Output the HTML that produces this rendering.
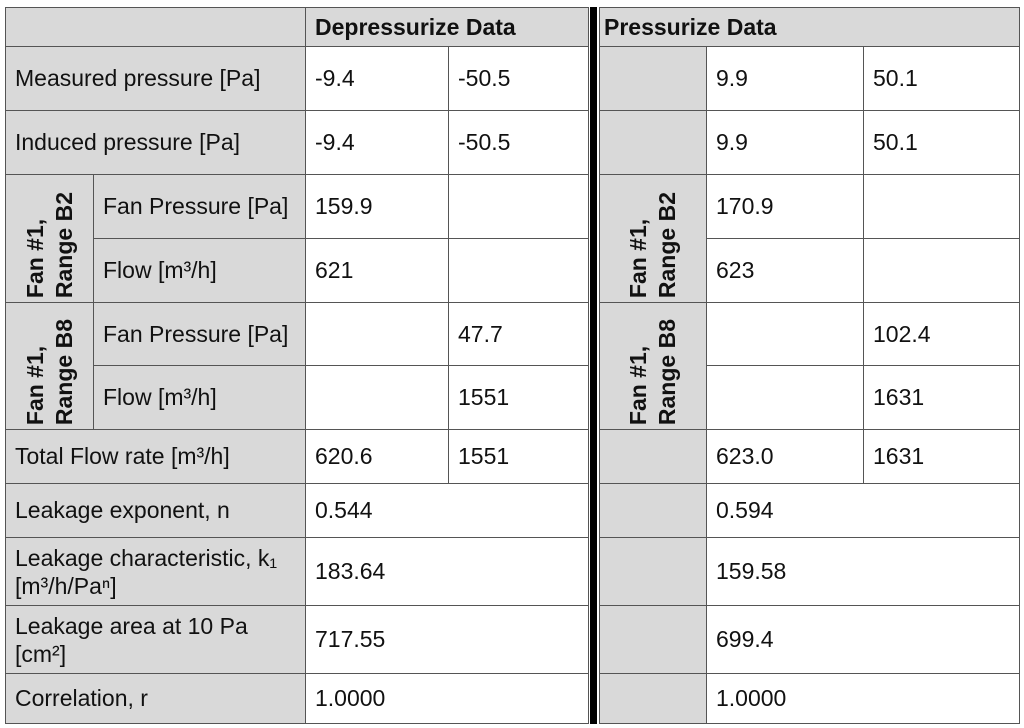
<!DOCTYPE html>
<html><head><meta charset="utf-8"><style>
html,body{margin:0;padding:0;background:#fff;}
body{width:1024px;height:728px;position:relative;overflow:hidden;font-family:"Liberation Sans",sans-serif;font-size:23px;color:#111;}
.c{position:absolute;box-sizing:border-box;border:1px solid #555;display:flex;align-items:center;padding-left:9px;white-space:nowrap;}
.g{background:#d9d9d9;}
.w{background:#fff;}
.b{font-weight:bold;}
.r{writing-mode:vertical-rl;transform:rotate(180deg);font-weight:bold;line-height:29px;}
.two{white-space:normal;line-height:28px;}
</style></head><body>
<!-- header -->
<div class="c g" style="left:5px;top:7px;width:301px;height:40px"></div>
<div class="c g b" style="left:305px;top:7px;width:284px;height:40px">Depressurize Data</div>
<div class="c g b" style="left:599px;top:7px;width:421px;height:40px;padding-left:4px">Pressurize Data</div>

<!-- Measured -->
<div class="c g" style="left:5px;top:46px;width:301px;height:65px">Measured pressure [Pa]</div>
<div class="c w" style="left:305px;top:46px;width:144px;height:65px">-9.4</div>
<div class="c w" style="left:448px;top:46px;width:141px;height:65px">-50.5</div>
<div class="c g" style="left:599px;top:46px;width:108px;height:65px"></div>
<div class="c w" style="left:706px;top:46px;width:158px;height:65px">9.9</div>
<div class="c w" style="left:863px;top:46px;width:157px;height:65px">50.1</div>

<!-- Induced -->
<div class="c g" style="left:5px;top:110px;width:301px;height:65px">Induced pressure [Pa]</div>
<div class="c w" style="left:305px;top:110px;width:144px;height:65px">-9.4</div>
<div class="c w" style="left:448px;top:110px;width:141px;height:65px">-50.5</div>
<div class="c g" style="left:599px;top:110px;width:108px;height:65px"></div>
<div class="c w" style="left:706px;top:110px;width:158px;height:65px">9.9</div>
<div class="c w" style="left:863px;top:110px;width:157px;height:65px">50.1</div>

<!-- Fan B2 -->
<div class="c g" style="left:5px;top:174px;width:89px;height:129px;justify-content:center;align-items:flex-end;padding:0 0 4px 0"><span class="r">Fan #1,<br>Range B2</span></div>
<div class="c g" style="left:93px;top:174px;width:213px;height:65px">Fan Pressure [Pa]</div>
<div class="c w" style="left:305px;top:174px;width:144px;height:65px">159.9</div>
<div class="c w" style="left:448px;top:174px;width:141px;height:65px"></div>
<div class="c g" style="left:93px;top:238px;width:213px;height:65px">Flow [m³/h]</div>
<div class="c w" style="left:305px;top:238px;width:144px;height:65px">621</div>
<div class="c w" style="left:448px;top:238px;width:141px;height:65px"></div>
<div class="c g" style="left:599px;top:174px;width:108px;height:129px;justify-content:center;align-items:flex-end;padding:0 0 4px 0"><span class="r">Fan #1,<br>Range B2</span></div>
<div class="c w" style="left:706px;top:174px;width:158px;height:65px">170.9</div>
<div class="c w" style="left:863px;top:174px;width:157px;height:65px"></div>
<div class="c w" style="left:706px;top:238px;width:158px;height:65px">623</div>
<div class="c w" style="left:863px;top:238px;width:157px;height:65px"></div>

<!-- Fan B8 -->
<div class="c g" style="left:5px;top:302px;width:89px;height:128px;justify-content:center;align-items:flex-end;padding:0 0 4px 0"><span class="r">Fan #1,<br>Range B8</span></div>
<div class="c g" style="left:93px;top:302px;width:213px;height:64px">Fan Pressure [Pa]</div>
<div class="c w" style="left:305px;top:302px;width:144px;height:64px"></div>
<div class="c w" style="left:448px;top:302px;width:141px;height:64px">47.7</div>
<div class="c g" style="left:93px;top:365px;width:213px;height:65px">Flow [m³/h]</div>
<div class="c w" style="left:305px;top:365px;width:144px;height:65px"></div>
<div class="c w" style="left:448px;top:365px;width:141px;height:65px">1551</div>
<div class="c g" style="left:599px;top:302px;width:108px;height:128px;justify-content:center;align-items:flex-end;padding:0 0 4px 0"><span class="r">Fan #1,<br>Range B8</span></div>
<div class="c w" style="left:706px;top:302px;width:158px;height:64px"></div>
<div class="c w" style="left:863px;top:302px;width:157px;height:64px">102.4</div>
<div class="c w" style="left:706px;top:365px;width:158px;height:65px"></div>
<div class="c w" style="left:863px;top:365px;width:157px;height:65px">1631</div>

<!-- Total flow -->
<div class="c g" style="left:5px;top:429px;width:301px;height:55px">Total Flow rate [m³/h]</div>
<div class="c w" style="left:305px;top:429px;width:144px;height:55px">620.6</div>
<div class="c w" style="left:448px;top:429px;width:141px;height:55px">1551</div>
<div class="c g" style="left:599px;top:429px;width:108px;height:55px"></div>
<div class="c w" style="left:706px;top:429px;width:158px;height:55px">623.0</div>
<div class="c w" style="left:863px;top:429px;width:157px;height:55px">1631</div>

<!-- Leakage exponent -->
<div class="c g" style="left:5px;top:483px;width:301px;height:55px">Leakage exponent, n</div>
<div class="c w" style="left:305px;top:483px;width:284px;height:55px">0.544</div>
<div class="c g" style="left:599px;top:483px;width:108px;height:55px"></div>
<div class="c w" style="left:706px;top:483px;width:314px;height:55px">0.594</div>

<!-- Leakage characteristic -->
<div class="c g two" style="left:5px;top:537px;width:301px;height:69px"><span>Leakage characteristic, k₁<br>[m³/h/Paⁿ]</span></div>
<div class="c w" style="left:305px;top:537px;width:284px;height:69px">183.64</div>
<div class="c g" style="left:599px;top:537px;width:108px;height:69px"></div>
<div class="c w" style="left:706px;top:537px;width:314px;height:69px">159.58</div>

<!-- Leakage area -->
<div class="c g two" style="left:5px;top:605px;width:301px;height:69px"><span>Leakage area at 10 Pa<br>[cm²]</span></div>
<div class="c w" style="left:305px;top:605px;width:284px;height:69px">717.55</div>
<div class="c g" style="left:599px;top:605px;width:108px;height:69px"></div>
<div class="c w" style="left:706px;top:605px;width:314px;height:69px">699.4</div>

<!-- Correlation -->
<div class="c g" style="left:5px;top:673px;width:301px;height:51px">Correlation, r</div>
<div class="c w" style="left:305px;top:673px;width:284px;height:51px">1.0000</div>
<div class="c g" style="left:599px;top:673px;width:108px;height:51px"></div>
<div class="c w" style="left:706px;top:673px;width:314px;height:51px">1.0000</div>

<!-- double divider -->
<div style="position:absolute;left:589px;top:7px;width:10px;height:717px;background:#fff"></div>
<div style="position:absolute;left:590px;top:7px;width:7px;height:717px;background:#000"></div>
</body></html>
